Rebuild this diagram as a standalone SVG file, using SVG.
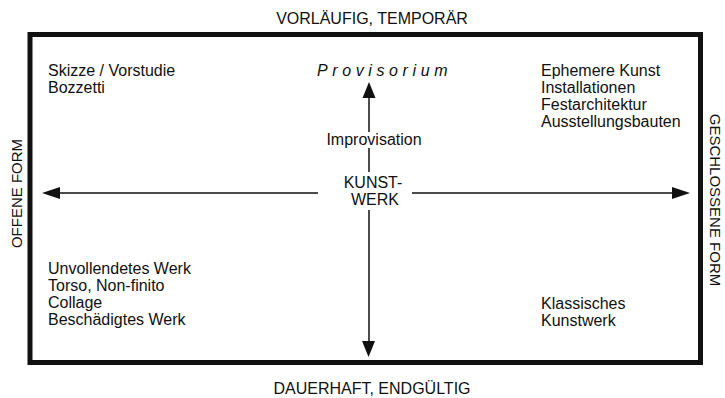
<svg xmlns="http://www.w3.org/2000/svg" width="725" height="398" viewBox="0 0 725 398">
<defs>
<style>
text{font-family:"Liberation Sans",Arial,sans-serif;font-size:16px;fill:#111}
.v{font-size:15px}
.ln{stroke:#111;stroke-width:1.5;fill:none}
.ah{fill:#111}
</style>
</defs>
<rect x="0" y="0" width="725" height="398" fill="#fff"/>
<g id="frame">
<rect x="30" y="34.5" width="670.5" height="328" fill="none" stroke="#111" stroke-width="5"/>
</g>
<g id="axis-labels">
<text x="372" y="24" text-anchor="middle">VORLÄUFIG, TEMPORÄR</text>
<text x="372" y="394" text-anchor="middle">DAUERHAFT, ENDGÜLTIG</text>
<text class="v" transform="translate(22,193.5) rotate(-90)" text-anchor="middle">OFFENE FORM</text>
<text class="v" transform="translate(710,200) rotate(90)" text-anchor="middle">GESCHLOSSENE FORM</text>
</g>
<g id="connectors">
<line class="ln" x1="369" y1="96" x2="369" y2="132"/>
<line class="ln" x1="369" y1="148" x2="369" y2="172"/>
<line class="ln" x1="369" y1="210" x2="369" y2="344"/>
<line class="ln" x1="58" y1="193" x2="318" y2="193"/>
<line class="ln" x1="412" y1="193" x2="674" y2="193"/>
<polygon class="ah" points="369,82 375.5,98 362.5,98"/>
<polygon class="ah" points="368.5,357 375,341 362,341"/>
<polygon class="ah" points="42,193 60,187 60,199"/>
<polygon class="ah" points="690,193 672,187 672,199"/>
</g>
<g id="center">
<text x="374" y="145" text-anchor="middle">Improvisation</text>
<text x="373" y="188" text-anchor="middle">KUNST-</text>
<text x="375" y="205" text-anchor="middle">WERK</text>
</g>
<g id="provisorium">
<text x="317" y="76" font-style="italic" letter-spacing="4.6">Provisorium</text>
</g>
<g id="top-left">
<text x="48" y="76">Skizze / Vorstudie</text>
<text x="48" y="93">Bozzetti</text>
</g>
<g id="top-right">
<text x="541" y="76">Ephemere Kunst</text>
<text x="541" y="93">Installationen</text>
<text x="541" y="110">Festarchitektur</text>
<text x="541" y="127">Ausstellungsbauten</text>
</g>
<g id="bottom-left">
<text x="48" y="274">Unvollendetes Werk</text>
<text x="48" y="291">Torso, Non-finito</text>
<text x="48" y="308">Collage</text>
<text x="48" y="325">Beschädigtes Werk</text>
</g>
<g id="bottom-right">
<text x="541" y="309">Klassisches</text>
<text x="541" y="326">Kunstwerk</text>
</g>
</svg>
